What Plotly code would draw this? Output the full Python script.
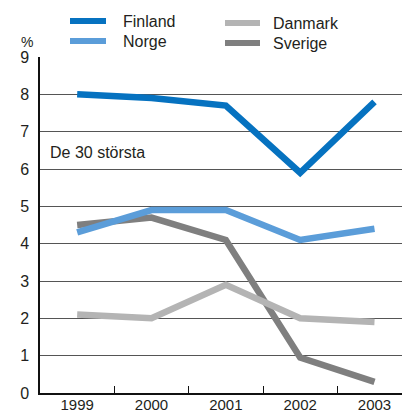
import plotly.graph_objects as go

years = ["1999", "2000", "2001", "2002", "2003"]
finland = [8.0, 7.9, 7.7, 5.9, 7.8]
norge = [4.3, 4.9, 4.9, 4.1, 4.4]
danmark = [2.1, 2.0, 2.9, 2.0, 1.9]
sverige = [4.5, 4.7, 4.1, 0.95, 0.3]
y_ticks = list(range(0, 10))

colors = {
    "Finland": "#0672c0",
    "Norge": "#5b9dd9",
    "Danmark": "#b4b4b4",
    "Sverige": "#7f7f7f",
}

W, H = 402, 414
L, R, T, B = 40, 0, 57, 21

fig = go.Figure()
for name, vals in [("Sverige", sverige), ("Danmark", danmark), ("Norge", norge), ("Finland", finland)]:
    fig.add_trace(go.Scatter(x=years, y=vals, mode="lines", name=name,
                             line=dict(color=colors[name], width=6.5), showlegend=False,
                             hoverinfo="skip"))

pw = W - L - R
ph = H - T - B

def px(x):
    return (x - L) / pw

def py(y):
    return (H - B - y) / ph

shapes = []
annotations = []
legend = [("Finland", 70, 106, 21, 121), ("Norge", 70, 106, 41, 121),
          ("Danmark", 225, 260, 23, 271), ("Sverige", 225, 260, 43, 271)]
for name, x0, x1, yy, tx in legend:
    shapes.append(dict(type="line", xref="paper", yref="paper", x0=px(x0), x1=px(x1),
                       y0=py(yy), y1=py(yy), line=dict(color=colors[name], width=6)))
    annotations.append(dict(text=name, xref="paper", yref="paper", x=px(tx), y=py(yy + 0.5),
                            xanchor="left", yanchor="middle", showarrow=False,
                            font=dict(size=16, color="#231f20")))

annotations.append(dict(text="%", xref="paper", yref="paper", x=px(35), y=py(42),
                        xanchor="right", yanchor="middle", showarrow=False,
                        font=dict(size=14, color="#231f20")))
annotations.append(dict(text="De 30 största", xref="paper", yref="paper", x=px(48), y=py(152),
                        xanchor="left", yanchor="middle", showarrow=False,
                        font=dict(size=16, color="#231f20")))

fig.update_layout(
    width=W, height=H,
    margin=dict(l=L, r=R, t=T, b=B, pad=0),
    paper_bgcolor="white", plot_bgcolor="white",
    font=dict(family="Liberation Sans, Arial, sans-serif", size=16, color="#231f20"),
    shapes=shapes, annotations=annotations,
    showlegend=False,
)
fig.update_xaxes(type="category", range=[-0.5, 4.37], showgrid=False,
                 showline=True, linecolor="#111", linewidth=1.5,
                 ticks="inside", tickson="boundaries", ticklen=7, tickcolor="#111",
                 ticklabelstandoff=-3,
                 tickfont=dict(size=15, color="#231f20"), automargin=False)
fig.update_yaxes(range=[0, 9], tickvals=y_ticks, showgrid=True, gridcolor="#555", gridwidth=1.2,
                 showline=True, linecolor="#111", linewidth=1.5, zeroline=False,
                 ticks="", ticklabelstandoff=6,
                 tickfont=dict(size=16, color="#231f20"), automargin=False)

fig.write_html("out.html", config={"displayModeBar": False},
               post_script="document.body.style.margin='0';document.body.style.overflow='hidden';")
